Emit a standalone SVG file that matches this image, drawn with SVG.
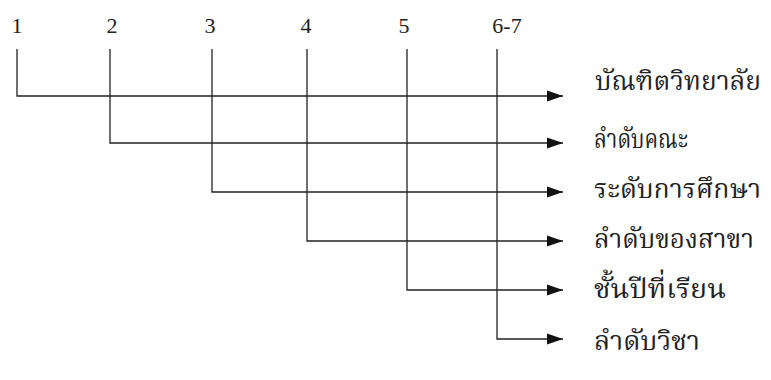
<svg xmlns="http://www.w3.org/2000/svg" width="771" height="380" viewBox="0 0 771 380">
<defs>
<marker id="ah" markerWidth="16" markerHeight="12" refX="16" refY="6" orient="auto" markerUnits="userSpaceOnUse">
<path d="M0,0.5 L16,6 L0,11.5 Z" fill="#111"/>
</marker>
<style>
.ln{stroke:#222;stroke-width:1.3;fill:none}
.num{font-family:"Liberation Serif",serif;font-size:22px;fill:#222;text-anchor:middle}
.lbl{font-family:"Noto Serif Thai","Noto Sans Thai","DejaVu Sans",serif;font-size:27px;fill:#222}
</style>
</defs>
<rect width="771" height="380" fill="#fff"/>
<g id="connectors">
<path class="ln" d="M17,49 V96 H563" marker-end="url(#ah)"/>
<path class="ln" d="M110,49 V143 H563" marker-end="url(#ah)"/>
<path class="ln" d="M212,49 V192 H563" marker-end="url(#ah)"/>
<path class="ln" d="M307,49 V241 H563" marker-end="url(#ah)"/>
<path class="ln" d="M407,49 V290 H563" marker-end="url(#ah)"/>
<path class="ln" d="M497,49 V339 H563" marker-end="url(#ah)"/>
</g>
<g id="n1"><text class="num" x="17" y="33">1</text><text class="lbl" x="595" y="90" textLength="166" lengthAdjust="spacingAndGlyphs">บัณฑิตวิทยาลัย</text></g>
<g id="n2"><text class="num" x="112" y="33">2</text><text class="lbl" x="594" y="148" textLength="94" lengthAdjust="spacingAndGlyphs">ลำดับคณะ</text></g>
<g id="n3"><text class="num" x="210" y="33">3</text><text class="lbl" x="594" y="198" textLength="167" lengthAdjust="spacingAndGlyphs">ระดับการศึกษา</text></g>
<g id="n4"><text class="num" x="306" y="33">4</text><text class="lbl" x="594" y="248" textLength="160" lengthAdjust="spacingAndGlyphs">ลำดับของสาขา</text></g>
<g id="n5"><text class="num" x="404" y="33">5</text><text class="lbl" x="594" y="298" textLength="132" lengthAdjust="spacingAndGlyphs">ชั้นปีที่เรียน</text></g>
<g id="n6"><text class="num" x="507" y="33">6-7</text><text class="lbl" x="594" y="350" textLength="106" lengthAdjust="spacingAndGlyphs">ลำดับวิชา</text></g>
</svg>
